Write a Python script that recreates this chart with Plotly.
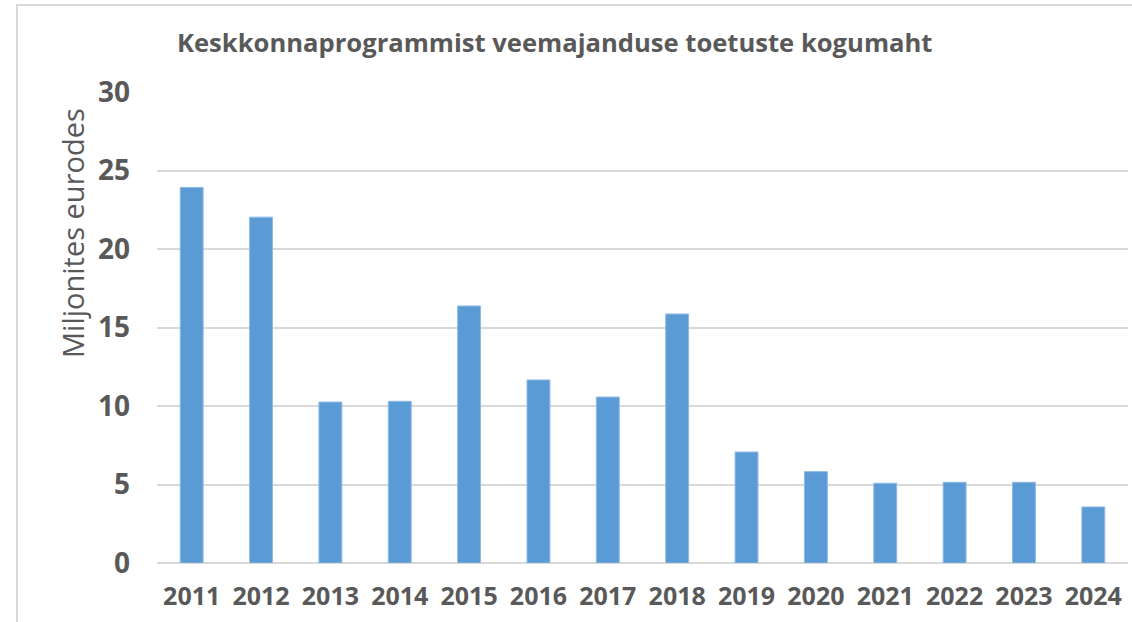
import plotly.graph_objects as go

years = ["2011", "2012", "2013", "2014", "2015", "2016", "2017", "2018",
         "2019", "2020", "2021", "2022", "2023", "2024"]
values = [23.92, 22.03, 10.25, 10.3, 16.37, 11.66, 10.57, 15.86,
          7.07, 5.82, 5.08, 5.14, 5.14, 3.57]
title_text = "Keskkonnaprogrammist veemajanduse toetuste kogumaht"
y_title = "Miljonites eurodes"

W, H = 1132, 622
L, R, T, B = 157, 4, 92, 59
pw, ph = W - L - R, H - T - B

FONT = "Open Sans"
GREY = "#595959"

fig = go.Figure(go.Bar(
    x=years, y=values,
    marker=dict(color="#5B9BD5", line=dict(color="#8DB9E6", width=1)),
    hoverinfo="skip",
))

fig.update_layout(
    width=W, height=H,
    margin=dict(l=L, r=R, t=T, b=B, autoexpand=False),
    paper_bgcolor="white", plot_bgcolor="white",
    bargap=0.67,
    showlegend=False,
    font=dict(family=FONT, color=GREY),
    xaxis=dict(
        type="category", showgrid=False, showline=False, ticks="",
        automargin=False,
        tickfont=dict(family=FONT, size=25, color=GREY, weight="bold"),
        ticklabelstandoff=16,
    ),
    yaxis=dict(
        range=[0, 30], dtick=5, showgrid=True, gridcolor="#D9D9D9", gridwidth=2,
        zeroline=True, zerolinecolor="#D9D9D9", zerolinewidth=2,
        showline=False, ticks="", automargin=False,
        tickfont=dict(family=FONT, size=28, color=GREY, weight="bold"),
        ticklabelstandoff=26,
    ),
    annotations=[
        dict(text="<b>" + title_text + "</b>", xref="paper", yref="paper",
             x=(175 - L) / pw, y=1 + (T - 42) / ph,
             xanchor="left", yanchor="middle",
             showarrow=False, font=dict(family=FONT, size=25.6, color=GREY)),
        dict(text=y_title, xref="paper", yref="paper",
             x=(73 - L) / pw, y=1 - (233 - T) / ph,
             xanchor="center", yanchor="middle",
             textangle=-90, showarrow=False,
             font=dict(family=FONT, size=29, color=GREY)),
    ],
    shapes=[
        dict(type="rect", xref="paper", yref="paper",
             x0=(17 - L) / pw, x1=1 + (R + 20) / pw,
             y0=-(B + 20) / ph, y1=1 + (T - 5) / ph,
             line=dict(color="#D9D9D9", width=2), fillcolor="rgba(0,0,0,0)", layer="below"),
    ],
)

fig.write_html("out.html", config={"displayModeBar": False},
               post_script="document.body.style.margin='0';document.body.style.overflow='hidden';")
